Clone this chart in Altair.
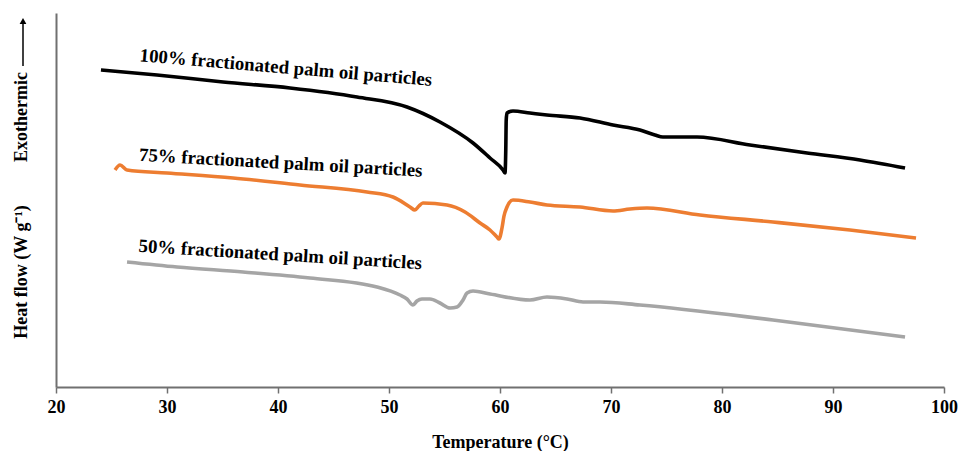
import altair as alt
import pandas as pd

# ---- data (temperature in °C, heat flow in arbitrary W/g units) ----
t_100 = [24.05, 29.10, 35.05, 41.08, 47.12, 51.62, 54.59, 57.57, 59.10, 60.27,
         60.45, 60.52, 60.56, 60.63, 61.17, 62.70, 64.23, 67.21, 70.18, 72.61, 73.96, 74.68,
         76.22, 77.75, 82.52, 87.66, 92.43, 96.49]
hf_100 = [3.17, 3.12, 3.05, 2.99, 2.90, 2.80, 2.65, 2.44, 2.29, 2.17,
          2.14, 2.37, 2.67, 2.74, 2.76, 2.74, 2.72, 2.69, 2.62, 2.57, 2.52, 2.50,
          2.50, 2.50, 2.42, 2.34, 2.27, 2.19]

t_75 = [25.32, 25.77, 26.40, 30.00, 35.95, 41.98, 48.02, 50.36, 51.89, 52.34, 52.70, 53.06,
        55.23, 56.85, 58.20, 59.10, 59.73, 59.91, 60.18, 60.36, 60.63, 61.17, 62.70,
        64.23, 67.21, 70.18, 71.71, 73.24, 78.02, 84.59, 91.53, 97.48]
hf_75 = [2.17, 2.22, 2.17, 2.14, 2.09, 2.02, 1.95, 1.90, 1.80, 1.77, 1.81, 1.84,
         1.82, 1.75, 1.64, 1.57, 1.50, 1.48, 1.59, 1.71, 1.80, 1.87, 1.85,
         1.82, 1.80, 1.76, 1.78, 1.79, 1.72, 1.65, 1.57, 1.49]

t_50 = [26.40, 30.90, 36.85, 42.88, 48.92, 50.99, 51.62, 52.16, 52.52, 52.97, 53.69, 54.59,
        55.50, 56.13, 56.67, 57.03, 57.57, 59.10, 62.70, 64.23, 66.04, 67.48, 69.01, 72.61,
        84.59, 96.49]
hf_50 = [1.25, 1.20, 1.15, 1.09, 1.00, 0.92, 0.88, 0.82, 0.86, 0.88, 0.88, 0.84,
         0.79, 0.80, 0.87, 0.94, 0.96, 0.93, 0.87, 0.90, 0.88, 0.85, 0.85, 0.82,
         0.67, 0.50]

series_names = ["100% fractionated palm oil particles",
                "75% fractionated palm oil particles",
                "50% fractionated palm oil particles"]
series_colors = ["#000000", "#ED7D31", "#A5A5A5"]
x_ticks = [20, 30, 40, 50, 60, 70, 80, 90, 100]

rows = []
for name, ts, hs in zip(series_names, [t_100, t_75, t_50], [hf_100, hf_75, hf_50]):
    for i, (t, h) in enumerate(zip(ts, hs)):
        rows.append({"series": name, "T": t, "hf": h, "i": i})
df = pd.DataFrame(rows)

FONT = "Liberation Serif"

x_scale = alt.Scale(domain=[20, 100], nice=False, zero=False)
y_scale = alt.Scale(domain=[0, 3.74], nice=False, zero=False)

lines = alt.Chart(df).mark_line(strokeWidth=3.6, interpolate="monotone").encode(
    x=alt.X("T:Q", scale=x_scale,
            axis=alt.Axis(title="Temperature (°C)", values=x_ticks, grid=False,
                          labelFlush=False, labelOverlap=False,
                          domainColor="#707070", domainWidth=2, tickColor="#707070",
                          tickWidth=1.5, tickSize=6, labelPadding=5,
                          labelFont=FONT, labelFontSize=18, labelFontWeight="bold",
                          labelColor="#000000",
                          titleFont=FONT, titleFontSize=18, titleFontWeight="bold",
                          titleColor="#000000", titleY=55, titleBaseline="middle")),
    y=alt.Y("hf:Q", scale=y_scale,
            axis=alt.Axis(title=None, labels=False, ticks=False, grid=False,
                          domainColor="#707070", domainWidth=2)),
    color=alt.Color("series:N", scale=alt.Scale(domain=series_names, range=series_colors),
                    legend=None),
    order="i:Q",
)

# annotation labels (anchored at baseline midpoints, rotated along the curves)
label_specs = [
    (series_names[0], 40.67, 3.135, 4.8),
    (series_names[1], 40.22, 2.183, 3.2),
    (series_names[2], 40.17, 1.265, 3.5),
]
label_layers = []
for text, lx, ly, ang in label_specs:
    label_layers.append(
        alt.Chart().mark_text(text=text, font=FONT, fontSize=18.8, fontWeight="bold",
                              color="#000000", align="center", baseline="alphabetic",
                              angle=ang).encode(
            x=alt.datum(lx, scale=x_scale), y=alt.datum(ly, scale=y_scale))
    )

ytitle1 = alt.Chart().mark_text(text="Heat flow (W g⁻¹)", font=FONT, fontSize=18,
                                fontWeight="bold", color="#000000", angle=270,
                                align="center", baseline="middle").encode(
    x=alt.value(-34), y=alt.value(259))
ytitle2 = alt.Chart().mark_text(text="Exothermic", font=FONT, fontSize=18,
                                fontWeight="bold", color="#000000", angle=270,
                                align="center", baseline="middle").encode(
    x=alt.value(-34), y=alt.value(104))
arrow_line = alt.Chart().mark_rule(color="#000000", strokeWidth=1.5).encode(
    x=alt.value(-33), y=alt.value(10), y2=alt.value(53))
arrow_head = alt.Chart().mark_point(shape="triangle-up", filled=True, color="#000000",
                                    size=45, opacity=1).encode(
    x=alt.value(-33), y=alt.value(8))

chart = alt.layer(lines, *label_layers, ytitle1, ytitle2, arrow_line, arrow_head).properties(
    width=888, height=374,
    autosize=alt.AutoSizeParams(type="none"),
    padding={"left": 56, "top": 13, "right": 18, "bottom": 64},
    background="white",
).configure_view(stroke=None)

chart.save("out.html", embed_options={"renderer": "svg", "actions": False})
